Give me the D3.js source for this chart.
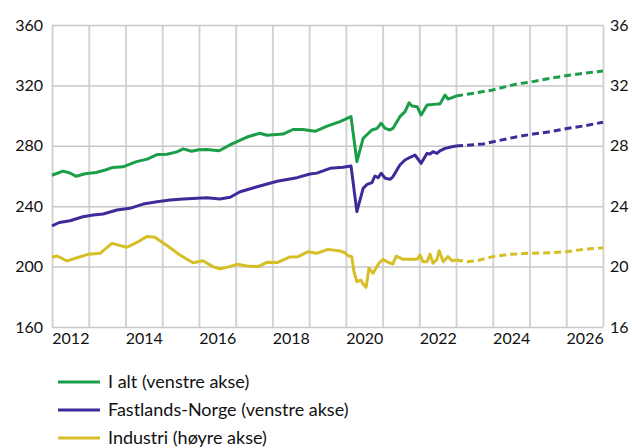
<!DOCTYPE html>
<html>
<head>
<meta charset="utf-8">
<script src="https://cdn.jsdelivr.net/npm/d3@7"></script>
<style>
  body { margin: 0; background: #fff; }
  svg text { font-family: Lato, "Open Sans", sans-serif; fill: #111; }
  .grid line { stroke: #c8c8c8; }
  .grid path { display: none; }
  .axis path, .axis line { display: none; }
</style>
</head>
<body>
<svg width="632" height="448"></svg>
<script>
// data: [year, value]
var iAltHist = [[2012.0,260.5],[2012.3,263.2],[2012.49,262],[2012.66,259.8],[2012.9,261.5],[2013.2,262.3],[2013.45,264],[2013.66,265.7],[2013.93,266.1],[2014.3,269.5],[2014.59,271.2],[2014.86,274.2],[2015.13,274.4],[2015.4,276],[2015.57,278],[2015.8,276.4],[2016.0,277.4],[2016.22,277.6],[2016.55,276.7],[2016.9,281.3],[2017.31,285.8],[2017.66,288.3],[2017.85,287],[2018.29,287.8],[2018.56,290.8],[2018.83,290.8],[2019.16,289.6],[2019.49,293],[2019.84,296],[2020.14,299.3],[2020.3,269.5],[2020.47,284.9],[2020.58,287.5],[2020.71,290.5],[2020.85,291.5],[2020.96,294.9],[2021.07,291.5],[2021.2,290.5],[2021.28,291.5],[2021.47,299.3],[2021.61,302.6],[2021.72,308.5],[2021.8,306.4],[2021.94,305.9],[2022.05,300.4],[2022.21,307],[2022.48,307.6],[2022.56,307.6],[2022.7,313.6],[2022.78,311],[2022.92,312.1],[2023.0,313]];
var iAltProg = [[2023.0,313],[2023.57,315.2],[2024.0,317],[2024.66,321],[2025.1,322.5],[2025.56,324.7],[2026.02,326.5],[2026.46,328],[2027.0,329.6]];

var fastlandHist = [[2012.0,227],[2012.2,229.2],[2012.49,230.4],[2012.84,233],[2013.12,234.2],[2013.39,234.8],[2013.77,237.5],[2014.12,238.6],[2014.48,241.4],[2014.86,243],[2015.21,244.1],[2015.57,244.8],[2015.95,245.2],[2016.22,245.6],[2016.57,244.8],[2016.85,245.9],[2017.12,249.6],[2017.66,253.4],[2018.13,256.5],[2018.67,258.9],[2019.02,261.3],[2019.21,261.9],[2019.57,265.1],[2019.92,265.8],[2020.14,266.6],[2020.3,236.4],[2020.47,251.8],[2020.58,254.5],[2020.71,255.6],[2020.79,260],[2020.88,258.9],[2020.96,261.8],[2021.07,258.5],[2021.2,257.8],[2021.28,259.5],[2021.47,267.3],[2021.61,270.6],[2021.75,272.4],[2021.88,273.9],[2022.05,268.4],[2022.21,275],[2022.29,274.6],[2022.37,276.1],[2022.48,275],[2022.56,276.6],[2022.7,278.3],[2022.89,279.4],[2023.0,279.9]];
var fastlandProg = [[2023.0,279.9],[2023.74,281.2],[2024.01,282.7],[2024.66,286],[2025.1,287.8],[2025.56,289.3],[2026.02,291.5],[2026.46,293.1],[2027.0,295.6]];

var industriHist = [[2012.0,20.62],[2012.14,20.7],[2012.41,20.37],[2012.68,20.59],[2012.98,20.81],[2013.31,20.88],[2013.63,21.54],[2014.04,21.28],[2014.31,21.6],[2014.59,22.0],[2014.8,21.94],[2015.13,21.4],[2015.48,20.77],[2015.84,20.26],[2016.11,20.39],[2016.38,20.0],[2016.57,19.86],[2016.76,19.95],[2017.04,20.15],[2017.31,20.04],[2017.61,20.0],[2017.85,20.28],[2018.13,20.27],[2018.48,20.64],[2018.7,20.66],[2018.97,20.99],[2019.21,20.88],[2019.51,21.14],[2019.84,21.03],[2019.98,20.92],[2020.06,20.72],[2020.16,20.66],[2020.22,19.66],[2020.3,19.0],[2020.41,19.11],[2020.47,18.85],[2020.55,18.63],[2020.63,19.89],[2020.74,19.56],[2020.82,19.89],[2020.9,20.22],[2021.01,20.48],[2021.12,20.32],[2021.28,20.17],[2021.37,20.7],[2021.56,20.48],[2021.94,20.48],[2022.02,20.77],[2022.1,20.32],[2022.21,20.32],[2022.29,20.83],[2022.37,20.22],[2022.48,20.48],[2022.54,21.05],[2022.65,20.32],[2022.78,20.66],[2022.89,20.39],[2023.0,20.44]];
var industriProg = [[2023.0,20.44],[2023.3,20.32],[2023.6,20.4],[2024.0,20.66],[2024.45,20.81],[2024.93,20.88],[2025.56,20.92],[2026.02,20.99],[2026.46,21.14],[2027.0,21.25]];

var yearLabels = [2012, 2014, 2016, 2018, 2020, 2022, 2024, 2026];
var leftTicks = [160, 200, 240, 280, 320, 360];
var rightTicks = [16, 20, 24, 28, 32, 36];
var legendNames = ["I alt (venstre akse)", "Fastlands-Norge (venstre akse)", "Industri (høyre akse)"];

var colors = ["#1a9e48", "#41299a", "#d6bf26"];

var svg = d3.select("svg");
var plotLeft = 52, plotRight = 603, plotTop = 25, plotBottom = 327;

var x = d3.scaleLinear().domain([2012, 2027]).range([plotLeft, plotRight]);
var yL = d3.scaleLinear().domain([160, 360]).range([plotBottom, plotTop]);
var yR = d3.scaleLinear().domain([16, 36]).range([plotBottom, plotTop]);

// gridlines
svg.append("g").attr("class", "grid")
    .attr("transform", "translate(0," + plotBottom + ")")
    .call(d3.axisBottom(x).tickValues(d3.range(2012, 2028)).tickSize(-(plotBottom - plotTop)).tickFormat(""))
    .selectAll("line").attr("stroke-width", 2).style("stroke", "#d4d4d4");

svg.append("g").attr("class", "grid")
    .attr("transform", "translate(" + plotLeft + ",0)")
    .call(d3.axisLeft(yL).tickValues(leftTicks).tickSize(-(plotRight - plotLeft)).tickFormat(""))
    .selectAll("line").attr("stroke-width", 1.5);

// axis labels
svg.append("g").attr("class", "axis")
    .attr("transform", "translate(" + plotLeft + ",0)")
    .call(d3.axisLeft(yL).tickValues(leftTicks).tickSize(0).tickPadding(9))
    .selectAll("text").style("font-size", "16px");

svg.append("g").attr("class", "axis")
    .attr("transform", "translate(" + plotRight + ",0)")
    .call(d3.axisRight(yR).tickValues(rightTicks).tickSize(0).tickPadding(7))
    .selectAll("text").style("font-size", "16px");

svg.append("g").attr("class", "axis")
    .attr("transform", "translate(0," + plotBottom + ")")
    .call(d3.axisBottom(x).tickValues(yearLabels.map(d => d + 0.5)).tickSize(0).tickPadding(6)
        .tickFormat(d => String(Math.floor(d))))
    .selectAll("text").style("font-size", "16px");

// lines
var lineL = d3.line().x(d => x(d[0])).y(d => yL(d[1]));
var lineR = d3.line().x(d => x(d[0])).y(d => yR(d[1]));

var series = [
    { hist: iAltHist, prog: iAltProg, gen: lineL, color: colors[0] },
    { hist: fastlandHist, prog: fastlandProg, gen: lineL, color: colors[1] },
    { hist: industriHist, prog: industriProg, gen: lineR, color: colors[2] }
];

// draw yellow first so the others sit on top
series.slice().reverse().forEach(function (s) {
    svg.append("path").datum(s.hist)
        .attr("fill", "none").attr("stroke", s.color).attr("stroke-width", 3)
        .attr("stroke-linejoin", "round")
        .attr("d", s.gen);
    svg.append("path").datum(s.prog)
        .attr("fill", "none").attr("stroke", s.color).attr("stroke-width", 3)
        .attr("stroke-dasharray", "7,4")
        .attr("d", s.gen);
});

// legend
var legend = svg.append("g").selectAll("g").data(legendNames).enter().append("g")
    .attr("transform", (d, i) => "translate(58," + (382 + i * 28) + ")");
legend.append("line").attr("x1", 0).attr("x2", 42)
    .attr("stroke", (d, i) => colors[i]).attr("stroke-width", 3);
legend.append("text").attr("x", 50).attr("dy", "0.35em")
    .style("font-size", "18px").text(d => d);
</script>
</body>
</html>
